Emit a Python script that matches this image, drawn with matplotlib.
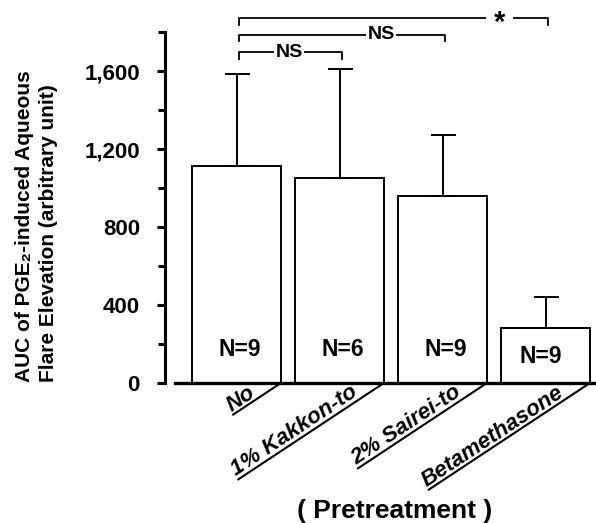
import numpy as np
import matplotlib
matplotlib.use("Agg")
import matplotlib.pyplot as plt
from matplotlib.lines import Line2D

plt.rcParams['font.family'] = ['Liberation Sans', 'DejaVu Sans']

# ---- data ----
categories = ["No", "1% Kakkon-to", "2% Sairei-to", "Betamethasone"]
means = [1115, 1050, 961, 283]
sd_upper = [470, 564, 312, 156]
n_labels = ["N=9", "N=6", "N=9", "N=9"]
yticks = [0, 400, 800, 1200, 1600]
ytick_labels = ["0", "400", "800", "1,200", "1,600"]
# significance comparisons: (from, to, label)
comparisons = [(0, 1, "NS"), (0, 2, "NS"), (0, 3, "*")]

W, H, DPI = 596, 523, 100
fig = plt.figure(figsize=(W / DPI, H / DPI), dpi=DPI)
ax = fig.add_axes([165 / W, (H - 382.7) / H, (W - 165) / W, 382.7 / H])
ax.set_ylim(0, 1966.6)
ax.set_xlim(-0.697, 3.487)
pxu = 382.7 / 1966.6  # pixels per data unit

x = np.arange(len(categories))
bw = 0.865
ax.bar(x, means, width=bw, color='white', edgecolor='black', linewidth=1.4, zorder=2)
ax.errorbar(x, means, yerr=[np.zeros(len(x)), sd_upper], fmt='none', ecolor='black',
            elinewidth=1.4, capsize=9, capthick=1.4, zorder=3)

# spines
for s in ['top', 'right']:
    ax.spines[s].set_visible(False)
ax.spines['left'].set_linewidth(2.2)
ax.spines['left'].set_bounds(0, 1800)
ax.spines['bottom'].set_linewidth(2.4)
ax.spines['bottom'].set_bounds(-0.6, 3.487)

ax.set_yticks(yticks)
ax.set_yticklabels(ytick_labels, fontsize=16, fontweight='bold')
ax.set_yticks(np.arange(200, 1801, 400), minor=True)
ax.tick_params(axis='y', which='major', length=6, width=2.2, pad=12)
ax.tick_params(axis='y', which='minor', length=5, width=2.2)
ax.set_xticks([])

# N labels
n_y = [171, 171, 171, 135]
n_dx = [0.03, 0.025, 0.025, -0.05]
for i, lab in enumerate(n_labels):
    ax.text(x[i] + n_dx[i], n_y[i], lab, ha='center', va='center', fontsize=16.5,
            fontweight='bold', zorder=4)

# significance brackets
br_y = [1698, 1788, 1872]
txt_x = [0.51, 1.40, 2.55]
for (a, b, lab), yy, tx in zip(comparisons, br_y, txt_x):
    xa, xb = a + 0.02, b + 0.02
    ax.plot([xa, xa, xb, xb], [yy - 33, yy, yy, yy - 33], color='black', lw=1.3,
            clip_on=False, zorder=3)
    if lab == "*":
        ax.text(tx, yy - 15.5 / pxu + 3 / pxu, lab, ha='center', va='baseline',
                fontsize=21, fontweight='bold', zorder=4, clip_on=False)
        ax.plot([tx - 0.11, tx + 0.11], [yy, yy], color='white', lw=3, zorder=3.5,
                clip_on=False)
    else:
        ax.text(tx, yy, lab, ha='center', va='center', fontsize=14,
                fontweight='bold', zorder=4, clip_on=False,
                bbox=dict(facecolor='white', edgecolor='none', pad=1.0))

# rotated, underlined category labels
ang_deg = 33.5
ang = np.deg2rad(ang_deg)
renderer = fig.canvas.get_renderer()
lab_fs = 16
for i, lab in enumerate(categories):
    tmp = fig.text(0, 0, lab, fontsize=lab_fs, fontweight='bold', style='italic')
    tw = tmp.get_window_extent(renderer).width
    tmp.remove()
    L = tw + 28
    P = ax.transData.transform((x[i] + bw / 2, 0))
    S = P - L * np.array([np.cos(ang), np.sin(ang)])
    line = Line2D([S[0], P[0]], [S[1], P[1]], transform=None, color='black', lw=1.5)
    fig.add_artist(line)
    T = S + 3.5 * np.array([-np.sin(ang), np.cos(ang)])
    Tf = fig.transFigure.inverted().transform(T)
    fig.text(Tf[0], Tf[1], lab, rotation=ang_deg, rotation_mode='anchor', ha='left',
             va='baseline', fontsize=lab_fs, fontweight='bold', style='italic')

fig.text(395 / W, 1 - 511 / H, "( Pretreatment )", ha='center', va='center',
         fontsize=19, fontweight='bold')

# y label (two lines)
fig.text(25 / W, 1 - 382 / H, "AUC of PGE\u2082-induced Aqueous", rotation=90,
         ha='center', va='bottom', fontsize=15, fontweight='bold')
fig.text(49 / W, 1 - 382 / H, "Flare Elevation (arbitrary unit)", rotation=90,
         ha='center', va='bottom', fontsize=15, fontweight='bold')

fig.savefig("out.png", dpi=DPI)
